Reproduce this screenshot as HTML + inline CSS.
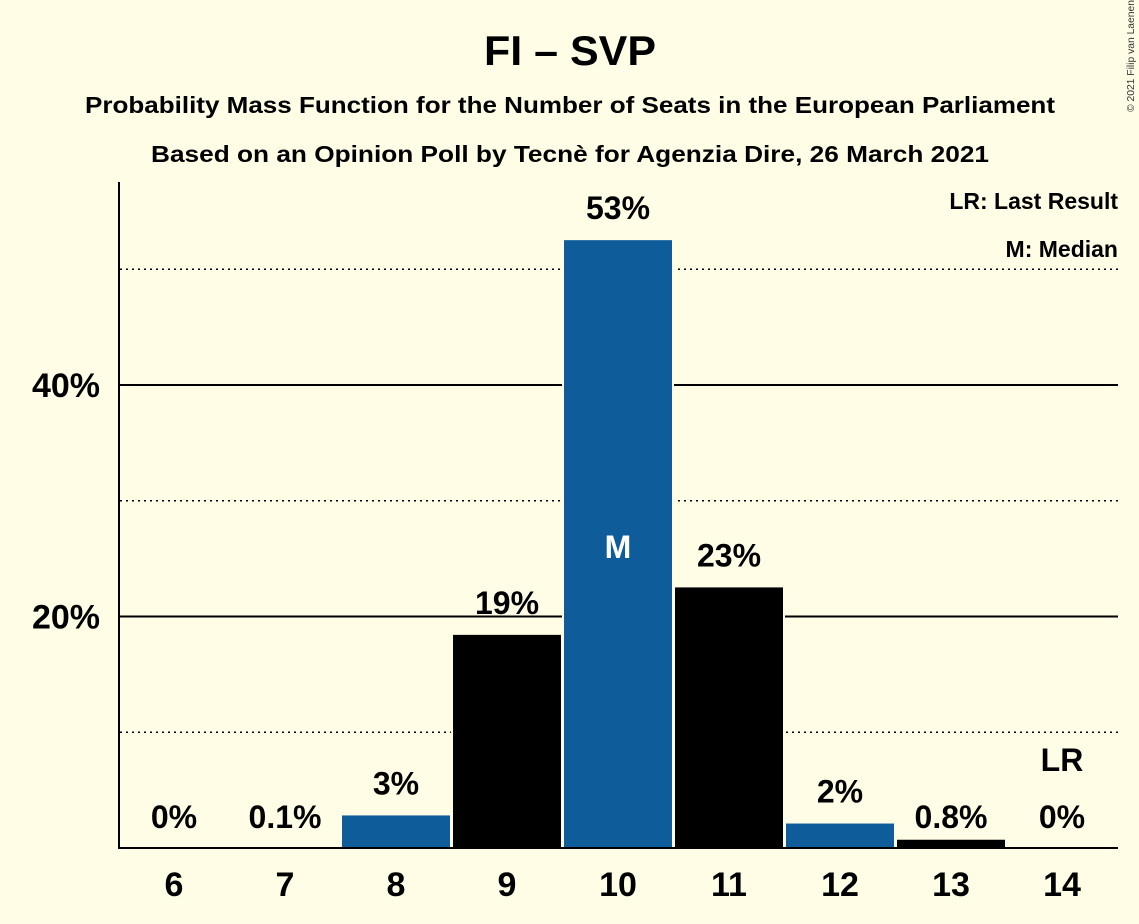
<!DOCTYPE html>
<html><head><meta charset="utf-8"><style>
html,body{margin:0;padding:0;background:#fffde5;}
svg{display:block;font-family:"Liberation Sans",sans-serif;font-weight:bold;}
</style></head><body>
<svg id="chart" width="1139" height="924" viewBox="0 0 1139 924" xmlns="http://www.w3.org/2000/svg">
<rect width="1139" height="924" fill="#fffde5"/>
<text x="570" y="65" font-size="42" text-anchor="middle" textLength="172" lengthAdjust="spacingAndGlyphs">FI – SVP</text>
<text x="570" y="113" font-size="23" text-anchor="middle" textLength="970" lengthAdjust="spacingAndGlyphs">Probability Mass Function for the Number of Seats in the European Parliament</text>
<text x="570" y="162" font-size="23" text-anchor="middle" textLength="838" lengthAdjust="spacingAndGlyphs">Based on an Opinion Poll by Tecnè for Agenzia Dire, 26 March 2021</text>
<text transform="translate(1134,112) rotate(-90)" font-size="10" font-weight="normal" fill="#333" textLength="112" lengthAdjust="spacingAndGlyphs">© 2021 Filip van Laenen</text>
<g id="grid"></g>
<g id="bars"></g>
<g id="labels"></g>
<line x1="119" y1="182" x2="119" y2="849" stroke="#000" stroke-width="2"/>
<line x1="118" y1="848" x2="1118" y2="848" stroke="#000" stroke-width="2"/>
<text x="1118" y="209" font-size="23" text-anchor="end">LR: Last Result</text>
<text x="1118" y="257" font-size="23" text-anchor="end">M: Median</text>
</svg>
<script>
const seats = [6,7,8,9,10,11,12,13,14];
const probs = [0,0.1,2.9,18.5,52.6,22.6,2.2,0.8,0];
const valueLabels = ["0%","0.1%","3%","19%","53%","23%","2%","0.8%","0%"];
const yTicks = [20,40];
const yMinor = [10,30,50];
const medianSeat = 10;
const lastResultSeat = 14;

const NS="http://www.w3.org/2000/svg";
const y = v => 848 - v*11.575;
const x = s => 174 + (s-6)*111;
const bw = 110;
function mk(tag, attrs){const e=document.createElementNS(NS,tag);for(const k in attrs)e.setAttribute(k,attrs[k]);return e;}
const grid=document.getElementById('grid'), bars=document.getElementById('bars'), labels=document.getElementById('labels');
yMinor.forEach(v=>{
  const l=mk('line',{x1:120,x2:1118,y1:y(v),y2:y(v),stroke:'#000','stroke-width':1.5,'stroke-dasharray':'2,4'});
  
  
  grid.appendChild(l);
});
yTicks.forEach(v=>{
  const l=mk('line',{x1:120,x2:1118,y1:y(v),y2:y(v),stroke:'#000','stroke-width':2});
  
  
  grid.appendChild(l);
  const t=mk('text',{x:100,y:y(v)+12,'font-size':34,'text-anchor':'end'});
  t.textContent=v+'%';
  
  
  labels.appendChild(t);
});
seats.forEach((s,i)=>{
  const p=probs[i];
  const col=(s===8||s===10||s===12)?'#0e5c99':'#000';
  if(p>0){
    const r=mk('rect',{x:x(s)-bw/2,y:y(p),width:bw,height:848-y(p),fill:col,stroke:'#fffde5','stroke-width':2});
    
    
    bars.appendChild(r);
  }
  const t=mk('text',{x:x(s),y:Math.min(y(p),848)-20,'font-size':32,'text-anchor':'middle'});
  if(p<1) t.setAttribute('y',828);
  t.textContent=valueLabels[i];
  
  
  labels.appendChild(t);
  const xt=mk('text',{x:x(s),y:896,'font-size':34,'text-anchor':'middle'});
  xt.textContent=s;
  
  
  labels.appendChild(xt);
  if(s===medianSeat){
    const m=mk('text',{x:x(s),y:558,'font-size':32,'text-anchor':'middle',fill:'#fff'});
    m.textContent='M';
    
    
    labels.appendChild(m);
  }
  if(s===lastResultSeat){
    const m=mk('text',{x:x(s),y:771,'font-size':32,'text-anchor':'middle'});
    m.textContent='LR';
    
    
    labels.appendChild(m);
  }
});
</script>
</body></html>
